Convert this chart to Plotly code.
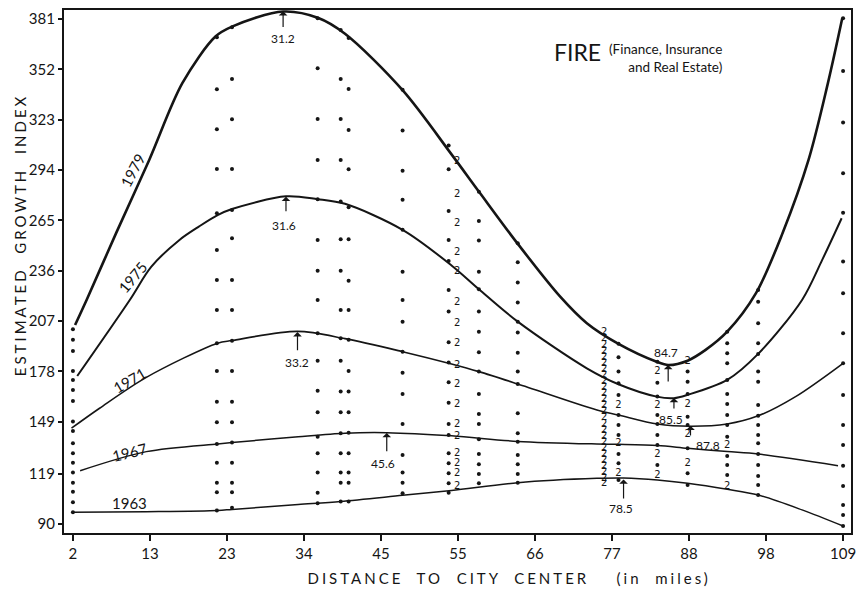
import plotly.graph_objects as go

# ---------------- data ----------------
x_tick_pos = [2, 12.7, 23.4, 34.1, 44.8, 55.5, 66.2, 76.9, 87.6, 98.3, 109]
x_tick_labels = ["2", "13", "23", "34", "45", "55", "66", "77", "88", "98", "109"]
y_tick_vals = [90, 119, 149, 178, 207, 236, 265, 294, 323, 352, 381]

# fitted curves
c1979_x = [2.3, 3.9, 8.0, 12.6, 17.2, 21.8, 24.1, 31.2, 36.1, 39.8, 47.8, 54.6, 58.5,
           63.7, 69.7, 73.4, 77.8, 83.1, 84.7, 87.4, 89.9, 92.9, 96.9, 100.6, 104.2, 106.9, 108.9]
c1979_y = [204.7, 219.1, 257.6, 299.8, 344.0, 370.9, 376.6, 385.3, 381.6, 372.5, 340.0, 303.0,
           281.0, 252.0, 221.0, 205.7, 193.8, 183.5, 181.6, 184.1, 190.3, 200.8, 223.0, 257.7,
           299.8, 344.2, 381.7]

c1975_x = [2.6, 9.9, 12.9, 16.8, 19.5, 22.1, 24.1, 31.6, 36.0, 39.8, 47.8, 54.6, 58.4,
           63.8, 73.4, 77.8, 83.1, 85.5, 87.4, 92.9, 97.2, 103.3, 106.1, 108.8]
c1975_y = [175.3, 219.1, 238.3, 253.7, 261.4, 268.0, 271.5, 278.8, 277.2, 274.5, 259.5, 239.0,
           225.3, 206.6, 179.7, 170.5, 163.4, 162.5, 164.4, 173.0, 188.0, 219.1, 242.2, 266.2]

c1971_x = [1.8, 5.7, 12.2, 22.1, 24.1, 33.2, 39.8, 47.8, 54.6, 58.4, 63.8, 74.8,
           77.8, 83.2, 87.8, 92.9, 97.2, 102.4, 109.0]
c1971_y = [145.2, 156.7, 174.5, 194.2, 195.7, 201.0, 196.8, 189.3, 182.2, 177.8,
           170.7, 155.7, 152.8, 147.6, 146.3, 147.6, 152.3, 163.4, 182.6]

c1967_x = [3.0, 12.2, 22.1, 24.1, 33.3, 39.8, 45.6, 54.6, 63.8, 74.8, 77.8,
           83.2, 87.4, 92.9, 97.2, 108.3]
c1967_y = [120.7, 131.7, 136.1, 136.9, 140.3, 142.3, 142.6, 140.8, 137.6,
           136.1, 135.9, 135.2, 133.6, 131.7, 130.3, 123.6]

c1963_x = [1.8, 12.2, 22.1, 24.1, 33.3, 39.2, 47.8, 54.6, 63.8, 74.8, 78.5, 83.2, 87.4, 92.9,
           97.2, 103.3, 109.0]
c1963_y = [96.7, 97.1, 97.8, 98.4, 101.2, 103.0, 106.5, 109.3, 113.8, 116.3, 116.5, 115.4,
           113.5, 110.0, 106.7, 98.1, 88.8]

curve_years = ["1979", "1975", "1971", "1967", "1963"]

# observations (single dots), one list per distance column
dot_col_x = [2, 22.0, 24.1, 36.0, 39.2, 40.3, 47.8, 54.2, 58.4, 63.8, 77.8, 83.2, 87.4, 92.9, 97.2, 109]
dots_2 = [202.2, 196.1, 189.7, 178.2, 173.0, 167.2, 160.9, 149.0, 143.6, 136.5, 130.7, 125.3, 119.6, 113.8,
          108.6, 102.5, 96.7]
dots_22 = [370.5, 340.5, 317.5, 294.6, 269.1, 247.9, 230.6, 213.3, 194.2, 178.2, 160.5, 148.6, 136.1, 125.3,
           113.8, 108.3, 97.7]
dots_24 = [376.3, 346.5, 323.3, 294.6, 271.0, 254.7, 230.6, 213.3, 195.6, 178.2, 160.5, 148.6, 136.9, 125.3,
           113.8, 108.3, 99.4]
dots_36 = [381.5, 352.7, 323.4, 299.8, 277.2, 253.7, 236.0, 219.1, 199.9, 184.0, 166.8, 154.4, 140.3, 130.8,
           119.6, 108.0, 101.9]
dots_39 = [374.7, 346.5, 323.4, 299.8, 275.8, 254.1, 236.0, 213.3, 197.0, 184.0, 166.3, 154.4, 142.3, 130.8,
           119.6, 113.8, 102.9]
dots_40 = [370.0, 340.7, 317.1, 294.4, 272.5, 254.1, 230.1, 213.3, 196.1, 178.2, 166.3, 154.4, 142.6, 130.8,
           119.6, 113.8, 102.9]
dots_48 = [340.2, 316.7, 293.6, 276.8, 259.5, 235.4, 219.1, 206.6, 189.3, 177.2, 164.9, 147.6, 129.8, 119.6,
           113.8, 107.7]
dots_54 = [308.1, 294.4, 270.4, 253.7, 241.6, 224.9, 212.4, 194.7, 183.0, 171.7, 159.9, 147.6, 141.3, 130.8,
           125.0, 119.2, 113.5, 108.0]
dots_58 = [281.5, 264.6, 253.3, 235.4, 225.3, 212.4, 200.8, 189.0, 177.8, 164.9, 153.4, 147.6, 138.8, 130.3,
           124.4, 118.8, 113.5]
dots_64 = [251.8, 240.8, 229.1, 217.6, 206.6, 200.3, 188.7, 177.8, 170.7, 153.8, 142.3, 137.4, 129.8, 124.4,
           118.8, 113.8]
dots_78 = [193.8, 186.1, 177.8, 171.1, 164.4, 152.8, 147.1, 141.3, 130.3, 125.0, 115.4]
dots_83 = [183.5, 171.4, 163.4, 152.8, 147.6, 141.3, 135.5, 124.0]
dots_87 = [177.8, 172.0, 164.9, 151.8, 147.1, 133.6, 119.2, 112.5]
dots_93 = [200.8, 194.2, 188.4, 182.6, 173.0, 164.9, 159.2, 152.8, 147.1, 140.3, 129.2, 124.0, 118.2]
dots_97 = [224.9, 218.1, 205.7, 194.2, 188.0, 177.8, 172.0, 158.6, 152.3, 147.1, 141.3, 136.5, 130.3, 124.0,
           117.7, 112.5, 106.7]
dots_109 = [381.5, 351.1, 321.3, 292.1, 269.4, 241.2, 223.0, 199.9, 182.6, 164.4, 147.1, 135.5, 123.6, 111.9,
            101.0, 95.2, 88.8]
dot_cols = [dots_2, dots_22, dots_24, dots_36, dots_39, dots_40, dots_48, dots_54, dots_58, dots_64,
            dots_78, dots_83, dots_87, dots_93, dots_97, dots_109]

# double observations, plotted as "2"
twos_col_x = [55.4, 75.8, 77.8, 83.2, 87.4, 92.9]
twos_55 = [298.8, 280.0, 263.3, 246.6, 235.4, 217.4, 205.7, 194.2, 181.2, 170.1, 158.6, 147.1, 140.3, 130.8,
           125.0, 119.2, 111.5]
twos_76 = [200.2, 196.8, 193.0, 189.6, 186.1, 182.4, 179.0, 175.6, 172.1, 168.5, 165.2, 161.6, 158.1, 154.6,
           151.2, 147.6, 144.1, 140.6, 137.2, 133.6, 130.2, 126.6, 123.1, 119.7, 116.3, 113.6]
twos_78 = [158.0, 136.1, 119.2]
twos_83 = [177.6, 158.0, 129.8, 118.2]
twos_87 = [183.5, 158.6, 141.3, 125.0]
twos_93 = [135.5, 111.5]
twos_cols = [twos_55, twos_76, twos_78, twos_83, twos_87, twos_93]

# peak / trough markers: value label, arrow head (x,y), arrow tail y, label position
extreme_labels = ["31.2", "31.6", "33.2", "45.6", "78.5", "84.7", "85.5", "87.8"]
extreme_x = [31.2, 31.6, 33.2, 45.6, 78.5, 84.7, 85.5, 87.8]
extreme_head_y = [385.5, 278.6, 200.6, 142.5, 115.6, 181.6, 162.6, 146.6]
extreme_tail_y = [375.5, 269.4, 189.3, 131.0, 103.8, 171.3, 155.7, 140.1]
extreme_label_x = [31.2, 31.3, 33.2, 45.1, 78.1, 84.4, 85.1, 90.2]
extreme_label_y = [369.5, 261.8, 182.8, 125.0, 99.2, 188.6, 150.5, 135.5]

# ---------------- figure ----------------
FONT = "Lato, 'Open Sans', sans-serif"
INK = "#151515"

fig = go.Figure()

curves = [(c1979_x, c1979_y, 2.6), (c1975_x, c1975_y, 2.0), (c1971_x, c1971_y, 1.6),
          (c1967_x, c1967_y, 1.5), (c1963_x, c1963_y, 1.5)]
for (cx, cy, w), yr in zip(curves, curve_years):
    fig.add_trace(go.Scatter(x=cx, y=cy, mode="lines", name=yr,
                             line=dict(color=INK, width=w, shape="spline", smoothing=0.9),
                             hoverinfo="skip", showlegend=False))

for cx, ys in zip(dot_col_x, dot_cols):
    fig.add_trace(go.Scatter(x=[cx] * len(ys), y=ys, mode="markers",
                             marker=dict(color=INK, size=4), showlegend=False))

for cx, ys in zip(twos_col_x, twos_cols):
    fig.add_trace(go.Scatter(x=[cx] * len(ys), y=ys, mode="text", text=["2"] * len(ys),
                             textfont=dict(family="'DejaVu Sans', sans-serif", size=10, color=INK),
                             showlegend=False))

annotations = []
for lab, hx, hy, ty, lx, ly in zip(extreme_labels, extreme_x, extreme_head_y, extreme_tail_y,
                                   extreme_label_x, extreme_label_y):
    annotations.append(dict(x=hx, y=hy, ax=hx, ay=ty, axref="x", ayref="y", xref="x", yref="y",
                            text="", showarrow=True, arrowhead=1, arrowsize=1.2, arrowwidth=1.2,
                            arrowcolor=INK))
    annotations.append(dict(x=lx, y=ly, xref="x", yref="y", text=lab, showarrow=False,
                            font=dict(family=FONT, size=12, color=INK)))

# curve year labels
year_label_x = [10.3, 10.3, 9.9, 9.9, 9.9]
year_label_y = [294.0, 232.4, 173.0, 131.7, 102.3]
year_label_angle = [-62, -50, -30, -14, 0]
for yr, lx, ly, ang in zip(curve_years, year_label_x, year_label_y, year_label_angle):
    annotations.append(dict(x=lx, y=ly, xref="x", yref="y", text=yr, showarrow=False,
                            textangle=ang, font=dict(family=FONT, size=15, color=INK)))

# title block
annotations.append(dict(x=0.62, y=0.92, xref="paper", yref="paper", xanchor="left", yanchor="middle",
                        text="FIRE", showarrow=False,
                        font=dict(family=FONT, size=23, color=INK)))
annotations.append(dict(x=0.839, y=0.945, xref="paper", yref="paper", xanchor="right", yanchor="top",
                        text="(Finance, Insurance<br>and Real Estate)", align="right", showarrow=False,
                        font=dict(family=FONT, size=13.5, color=INK)))

# axis titles
annotations.append(dict(x=-0.0555, y=0.57, xref="paper", yref="paper", xanchor="center", yanchor="middle",
                        textangle=-90,
                        text="ESTIMATED\u00a0\u00a0GROWTH\u00a0\u00a0INDEX", showarrow=False,
                        font=dict(family=FONT, size=15, color=INK)))
annotations.append(dict(x=0.565, y=-0.086, xref="paper", yref="paper", xanchor="center", yanchor="middle",
                        text="DISTANCE\u00a0 TO\u00a0 CITY\u00a0 CENTER\u00a0\u00a0\u00a0 (in\u00a0 miles)",
                        showarrow=False, font=dict(family=FONT, size=15, color=INK)))

fig.update_layout(
    width=862, height=599,
    margin=dict(l=64, r=6, t=10, b=66),
    paper_bgcolor="white", plot_bgcolor="white",
    annotations=annotations,
    xaxis=dict(range=[0.76, 110.1], tickvals=x_tick_pos, ticktext=x_tick_labels,
               ticks="outside", ticklen=6, tickwidth=1.5, tickcolor=INK,
               showgrid=False, zeroline=False, showline=True, mirror=True,
               linecolor=INK, linewidth=2.2,
               tickfont=dict(family=FONT, size=15, color=INK)),
    yaxis=dict(range=[84.8, 386.2], tickvals=y_tick_vals,
               ticks="outside", ticklen=4, tickwidth=1.5, tickcolor=INK,
               showgrid=False, zeroline=False, showline=True, mirror=True,
               linecolor=INK, linewidth=2.2,
               tickfont=dict(family=FONT, size=15, color=INK)),
)

post_js = """
document.body.style.margin = '0';
var gd = document.getElementById('{plot_id}');
gd.querySelectorAll('text.annotation-text').forEach(function (t) {
  var s = t.textContent;
  if (s.indexOf('DISTANCE') === 0 || s.indexOf('ESTIMATED') === 0) { t.style.letterSpacing = '3px'; }
});
"""
fig.write_html("out.html", post_script=post_js, config={"displayModeBar": False})
